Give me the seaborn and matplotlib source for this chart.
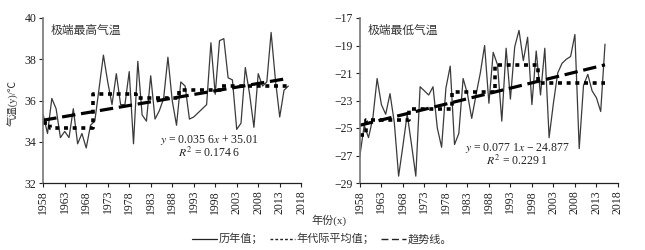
import numpy as np
import pandas as pd
import seaborn as sns
import matplotlib
matplotlib.use('Agg')
import matplotlib.pyplot as plt

# data
years = list(range(1958, 2016))

tmax = [35.3, 34.4, 36.1, 35.6, 34.2, 34.5, 34.2, 35.6, 33.9, 34.4,
        33.7, 34.8, 35.0, 36.6, 38.2, 36.9, 35.8, 37.3, 35.8, 35.8,
        37.4, 33.9, 37.9, 35.3, 35.0, 37.2, 35.1, 35.5, 36.1, 38.1,
        36.0, 34.8, 36.9, 36.7, 35.1, 35.2, 35.4, 35.6, 35.8, 38.8,
        36.3, 38.9, 39.0, 37.1, 37.0, 34.6, 34.9, 37.6, 36.3, 34.7,
        37.3, 36.7, 36.9, 39.3, 37.0, 35.2, 36.5, 36.7]

tmin = [-27.0, -24.8, -25.7, -24.3, -21.4, -23.3, -24.0, -22.5, -24.6, -28.5,
        -26.3, -24.0, -26.2, -28.5, -22.0, -22.3, -22.6, -22.0, -25.0, -26.4,
        -22.1, -20.5, -26.2, -25.4, -21.4, -22.5, -24.3, -22.6, -21.0, -19.0,
        -23.2, -19.5, -20.4, -24.5, -19.2, -22.9, -19.1, -17.9, -20.1, -18.4,
        -23.3, -19.4, -22.6, -19.2, -25.7, -23.2, -21.0, -20.3, -20.0, -19.8,
        -18.2, -26.5, -21.9, -21.1, -22.3, -22.8, -23.8, -18.9]

# decade (年代际) means
dec_start = [1958, 1960, 1970, 1980, 1990, 2000]
dec_end = [1959, 1969, 1979, 1989, 1999, 2015]
tmax_dec = [34.9, 34.65, 36.3, 36.1, 36.5, 36.7]
tmin_dec = [-25.5, -24.4, -23.6, -22.4, -20.4, -21.7]

# trend lines from the printed equations (x = 1 for 1958)
tmax_fit = (0.0356, 35.01)
tmin_fit = (0.0771, -24.877)

panels = [
    dict(name='极端最高气温', y=tmax, dec=tmax_dec, fit=tmax_fit,
         eq='$y$ = 0.035 6$x$ + 35.01', r2='$R^2$ = 0.174 6',
         ylim=(32, 40), yticks=[32, 34, 36, 38, 40], eqpos=(0.645, 0.26)),
    dict(name='极端最低气温', y=tmin, dec=tmin_dec, fit=tmin_fit,
         eq='$y$ = 0.077 1$x$ − 24.877', r2='$R^2$ = 0.229 1',
         ylim=(-29, -17), yticks=[-29, -27, -25, -23, -21, -19, -17], eqpos=(0.61, 0.215)),
]

sns.set_theme(style='ticks')
plt.rcParams['font.family'] = ['Liberation Serif', 'Noto Sans CJK SC']
plt.rcParams['mathtext.fontset'] = 'stix'
plt.rcParams['axes.unicode_minus'] = True

fig = plt.figure(figsize=(6.45, 2.5), dpi=100)
ax1 = fig.add_axes([0.067, 0.268, 0.400, 0.660])
ax2 = fig.add_axes([0.558, 0.268, 0.400, 0.660])

for ax, p in zip([ax1, ax2], panels):
    df = pd.DataFrame({'year': years, 'val': p['y']})
    # per-year decade mean for a step line
    dec_vals = []
    for yr in years:
        for s, e, v in zip(dec_start, dec_end, p['dec']):
            if s <= yr <= e:
                dec_vals.append(v)
    df['dec'] = dec_vals
    idx = np.arange(1, len(years) + 1)
    df['trend'] = p['fit'][0] * idx + p['fit'][1]

    sns.lineplot(data=df, x='year', y='val', ax=ax, color='#3a3a3a', lw=0.9,
                 estimator=None)
    sns.lineplot(data=df, x='year', y='dec', ax=ax, color='black', lw=2.6,
                 estimator=None, drawstyle='steps-mid', dashes=False,
                 linestyle=(0, (1.1, 1.3)))
    sns.lineplot(data=df, x='year', y='trend', ax=ax, color='black', lw=2.3,
                 estimator=None, linestyle=(0, (4.2, 1.8)))

    ax.set_xlim(1958, 2018)
    ax.set_ylim(*p['ylim'])
    ax.set_xticks(range(1958, 2019, 5))
    ax.set_xticklabels([str(t) for t in range(1958, 2019, 5)], rotation=90)
    ax.set_yticks(p['yticks'])
    ax.set_yticklabels([str(t).replace('-', '−') for t in p['yticks']])
    ax.tick_params(axis='both', labelsize=8.5, length=3, width=0.8,
                   direction='out', pad=2, colors='#222222')
    ax.set_xlabel('')
    ax.set_ylabel('')
    sns.despine(ax=ax)
    ax.spines['left'].set_color('#777777')
    ax.spines['left'].set_linewidth(1.2)
    ax.spines['bottom'].set_color('#222222')
    ax.spines['bottom'].set_linewidth(0.9)

    ax.text(0.03, 0.925, p['name'], transform=ax.transAxes, fontsize=8.5,
            color='#333333', va='center', ha='left')
    ex, ey = p['eqpos']
    ax.text(ex, ey, p['eq'], transform=ax.transAxes, fontsize=8.5,
            color='#222222', ha='center', va='center')
    ax.text(ex, ey - 0.078, p['r2'], transform=ax.transAxes, fontsize=8.5,
            color='#222222', ha='center', va='center')

fig.text(0.020, 0.59, '气温(y)/℃', rotation=90, fontsize=7.5,
         ha='center', va='center', color='#333333')
fig.text(0.51, 0.12, '年份(x)', fontsize=8, ha='center', va='center',
         color='#333333')

legend_labels = ['历年值；', '年代际平均值；', '趋势线。']
handles = [
    plt.Line2D([], [], color='#222222', lw=0.9),
    plt.Line2D([], [], color='#222222', lw=1.0, linestyle=(0, (2, 1.5))),
    plt.Line2D([], [], color='#222222', lw=1.0, linestyle=(0, (5, 2.5))),
]
fig.legend(handles, legend_labels, loc='center', bbox_to_anchor=(0.5, 0.045),
           ncol=3, frameon=False, fontsize=8, handlelength=2.2,
           handletextpad=0.2, columnspacing=0.6, labelcolor='#333333')

fig.savefig('out.png', dpi=100)
